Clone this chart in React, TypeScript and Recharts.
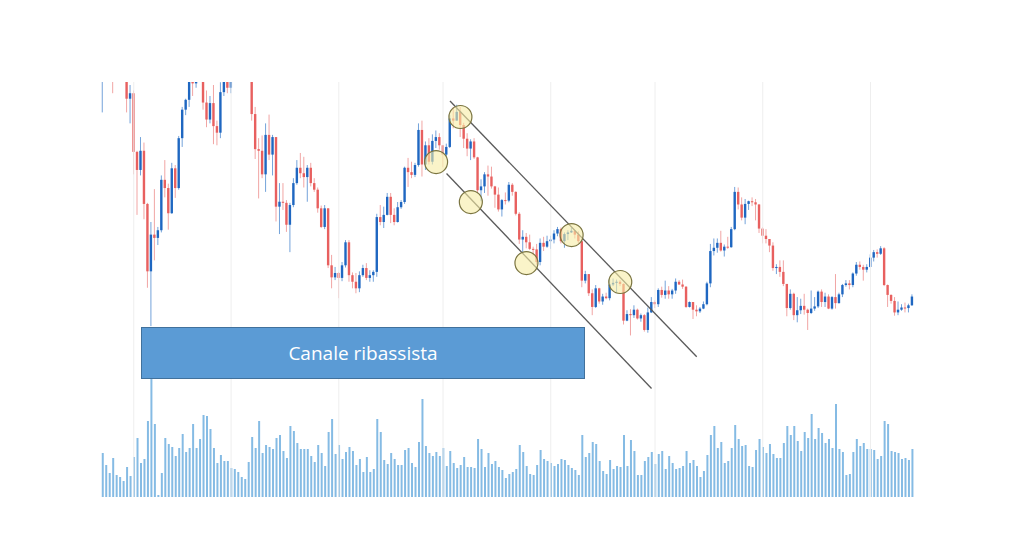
import { ComposedChart, Bar, XAxis, YAxis, ReferenceLine, ReferenceDot } from 'recharts';

// BTC daily candles, 23 Jan 2018 -> 13 Sep 2018
const firstDay = Date.UTC(2018, 0, 23);
const firstOpen = 10800;

const closes = [
  10900, 11300, 11100, 11050, 11450, 11750, 11200, 10100, 10200, 9130,
  8800, 9150, 8180, 6950, 7620, 7560, 7700, 8620, 8470, 8010,
  8830, 8470, 9380, 9900, 10080, 11050, 10380, 11150, 11400, 10030,
  9720, 10020, 9600, 9480, 10220, 10650, 10300, 10950, 11000, 11450,
  11500, 11450, 10700, 9820, 9180, 9150, 8720, 9440, 9080, 9400,
  8130, 8220, 8200, 7800, 8160, 8560, 8840, 8740, 8670, 8840,
  8560, 8440, 8100, 7760, 8100, 7060, 6840, 6920, 6830, 7060,
  7480, 6880, 6760, 6640, 6880, 7010, 6830, 6880, 6940, 7940,
  7850, 7980, 8310, 7980, 7850, 8120, 8215, 8840, 8760, 8710,
  8890, 9530, 8900, 9250, 8950, 9330, 9400, 9250, 9080, 9220,
  9740, 9700, 9860, 9620, 9370, 9190, 9320, 9030, 8430, 8500,
  8720, 8680, 8500, 8350, 8080, 8250, 8240, 8530, 8400, 8000,
  7530, 7580, 7480, 7360, 7350, 7120, 7470, 7400, 7500, 7530,
  7640, 7720, 7500, 7630, 7660, 7690, 7620, 7500, 6780, 6900,
  6550, 6300, 6640, 6400, 6490, 6460, 6710, 6740, 6760, 6720,
  6050, 6170, 6150, 6250, 6090, 6150, 5880, 6200, 6390, 6350,
  6610, 6520, 6600, 6530, 6600, 6760, 6710, 6670, 6300, 6390,
  6250, 6220, 6270, 6350, 6730, 7320, 7380, 7470, 7330, 7400,
  7390, 7720, 8400, 8170, 7930, 8180, 8230, 8210, 8170, 7730,
  7600, 7540, 7420, 7010, 7030, 6940, 6720, 6280, 6540, 6150,
  6240, 6320, 6250, 6190, 6270, 6310, 6580, 6390, 6490, 6270,
  6480, 6370, 6530, 6700, 6730, 6700, 6910, 7070, 7030, 6980,
  7030, 7200, 7300, 7270, 7370, 6700, 6520, 6410, 6200, 6250,
  6290, 6280, 6330, 6490,
];

const highs = [
  11100, 11450, 11600, 11600, 11600, 12000, 11800, 11250, 10350, 10250,
  9150, 9400, 9300, 8200, 7850, 8450, 7760, 8700, 8980, 8550,
  8930, 8890, 9420, 9950, 10100, 11150, 11250, 11250, 11800, 11500,
  10250, 10150, 10350, 9700, 10400, 10850, 11050, 11050, 11150, 11550,
  11550, 11700, 11450, 10900, 9950, 9380, 9430, 9650, 9810, 9440,
  9400, 8560, 8560, 8250, 8200, 8650, 8980, 9110, 9040, 8890,
  8930, 8650, 8480, 8150, 8160, 8100, 7250, 7030, 6940, 7120,
  7520, 7520, 6930, 6920, 6950, 7070, 7100, 6970, 6970, 8000,
  8160, 8130, 8380, 8380, 8100, 8215, 8250, 8860, 9020, 8950,
  8930, 9650, 9700, 9320, 9380, 9450, 9520, 9470, 9250, 9280,
  9800, 9950, 9990, 9950, 9660, 9470, 9360, 9380, 9040, 8630,
  8760, 8880, 8860, 8510, 8480, 8270, 8390, 8580, 8560, 8410,
  8030, 7700, 7650, 7620, 7400, 7450, 7550, 7580, 7600, 7600,
  7700, 7760, 7750, 7660, 7700, 7750, 7700, 7680, 7510, 6960,
  6900, 6620, 6700, 6650, 6540, 6560, 6810, 6820, 6800, 6790,
  6730, 6240, 6260, 6330, 6270, 6180, 6170, 6290, 6480, 6420,
  6640, 6670, 6780, 6680, 6630, 6820, 6790, 6800, 6680, 6400,
  6390, 6330, 6300, 6400, 6760, 7450, 7550, 7550, 7690, 7440,
  7580, 7760, 8490, 8480, 8300, 8270, 8240, 8300, 8270, 8180,
  7760, 7720, 7540, 7480, 7080, 7150, 7150, 6720, 6620, 6560,
  6480, 6450, 6540, 6270, 6600, 6480, 6600, 6620, 6560, 6530,
  6500, 6900, 6560, 6720, 6790, 6790, 6930, 7120, 7130, 7070,
  7080, 7260, 7340, 7350, 7410, 7390, 6710, 6530, 6480, 6400,
  6350, 6380, 6360, 6530,
];

const lows = [
  9850, 10450, 10900, 10200, 10850, 11350, 11050, 9850, 9650, 8720,
  7980, 8700, 7900, 6650, 5950, 7150, 7430, 7660, 8300, 7710,
  8000, 8290, 8440, 9220, 9800, 9950, 10150, 10300, 11100, 9900,
  9580, 9650, 9270, 9250, 9380, 10150, 10200, 10200, 10750, 11000,
  11050, 11400, 10600, 9700, 9000, 8280, 8650, 8400, 8980, 8700,
  7860, 7630, 8070, 7670, 7300, 8120, 8530, 8650, 8480, 8220,
  8500, 8400, 8020, 7740, 7720, 7010, 6640, 6790, 6460, 6770,
  7020, 6760, 6640, 6550, 6570, 6850, 6790, 6760, 6760, 6850,
  7790, 7740, 7970, 7830, 7790, 7840, 8090, 8180, 8490, 8650,
  8670, 8860, 8680, 8800, 8900, 8900, 9200, 9170, 8850, 9050,
  9200, 9560, 9700, 9400, 9200, 9050, 8980, 9000, 8380, 8230,
  8380, 8330, 8460, 8110, 8040, 7950, 8170, 8210, 8330, 7970,
  7450, 7280, 7370, 7340, 7240, 7070, 7060, 7320, 7380, 7360,
  7460, 7590, 7460, 7380, 7520, 7650, 7550, 7460, 6660, 6730,
  6500, 6150, 6280, 6360, 6340, 6440, 6420, 6680, 6560, 6680,
  5980, 6040, 5780, 6100, 6070, 6030, 5850, 5830, 6190, 6280,
  6300, 6470, 6450, 6450, 6450, 6540, 6700, 6630, 6280, 6290,
  6080, 6130, 6190, 6260, 6330, 6660, 7240, 7290, 7310, 7220,
  7360, 7380, 7700, 8080, 7880, 7810, 8070, 8140, 7880, 7650,
  7460, 7460, 7300, 6960, 6900, 6850, 6680, 6130, 6250, 6060,
  6020, 6170, 6160, 5880, 6170, 6230, 6280, 6300, 6300, 6260,
  6250, 6270, 6360, 6480, 6670, 6620, 6660, 6870, 6980, 6780,
  6930, 7020, 7130, 7200, 7250, 6680, 6300, 6360, 6140, 6150,
  6230, 6200, 6200, 6320,
];

const volumes = [
  44, 32, 24, 39, 22, 20, 16, 30, 21, 40,
  59, 34, 38, 76, 120, 73, 2, 24, 59, 53,
  50, 41, 49, 63, 45, 49, 73, 49, 58, 82,
  81, 68, 49, 34, 42, 36, 36, 29, 28, 25,
  20, 18, 35, 60, 49, 76, 44, 52, 50, 48,
  59, 62, 46, 39, 71, 66, 54, 48, 48, 48,
  41, 35, 52, 44, 31, 65, 78, 43, 52, 38,
  45, 50, 46, 32, 38, 25, 40, 25, 28, 78,
  65, 37, 33, 44, 38, 32, 32, 47, 49, 34,
  30, 55, 98, 51, 44, 41, 45, 41, 49, 31,
  46, 34, 29, 32, 40, 30, 30, 29, 58, 48,
  30, 44, 33, 36, 30, 27, 19, 23, 25, 28,
  52, 45, 31, 23, 22, 32, 47, 38, 36, 34,
  31, 33, 38, 37, 32, 29, 27, 22, 62, 40,
  44, 55, 53, 36, 26, 23, 37, 28, 31, 30,
  62, 31, 57, 46, 22, 22, 36, 40, 45, 33,
  43, 46, 28, 41, 34, 28, 29, 31, 46, 34,
  37, 31, 20, 26, 42, 62, 71, 49, 55, 34,
  36, 49, 72, 58, 51, 52, 31, 30, 47, 58,
  50, 44, 53, 43, 39, 39, 54, 71, 62, 71,
  56, 46, 65, 59, 83, 58, 69, 64, 54, 58,
  49, 93, 48, 45, 22, 23, 45, 58, 51, 54,
  48, 48, 47, 38, 41, 76, 73, 46, 45, 44,
  38, 39, 37, 48,
];

const monthStarts = ['2018-02-01', '2018-03-01', '2018-04-01', '2018-05-01', '2018-06-01', '2018-07-01', '2018-08-01', '2018-09-01'];

// channel drawn on the chart: [day index, price]
const upperChannel = [[100, 10058], [171, 5391]];
const lowerChannel = [[99, 8735], [158, 4813]];
const touches = [[103, 9766], [96, 8944], [106, 8214], [135, 7612], [122, 7101], [149, 6755]];

const days = closes.map((_, i) => new Date(firstDay + i * 86400000).toISOString().slice(0, 10));

const data = closes.map((close, i) => {
  const open = i === 0 ? firstOpen : closes[i - 1];
  const high = Math.max(highs[i], open, close);
  const low = Math.min(lows[i], open, close);
  return { day: days[i], open, close, high, low, range: [low, high], volume: volumes[i] };
});

const UP = '#1f67c1';
const DOWN = '#e8605f';
const UP_WICK = '#74a3da';
const DOWN_WICK = '#f1a5a4';

function Candle(props: any) {
  const { x, y, width, height, payload } = props;
  if (!payload || y == null) return null;
  const top = Math.min(y, y + height);
  const h = Math.abs(height);
  const span = payload.high - payload.low || 1;
  const toY = (v: number) => top + ((payload.high - v) / span) * h;
  const up = payload.close >= payload.open;
  const cx = x + width / 2;
  const bTop = toY(Math.max(payload.open, payload.close));
  const bBot = toY(Math.min(payload.open, payload.close));
  const bw = 2.4;
  return (
    <g>
      <line x1={cx} x2={cx} y1={top} y2={top + h} stroke={up ? UP_WICK : DOWN_WICK} strokeWidth={1} />
      <rect x={cx - bw / 2} y={bTop} width={bw} height={Math.max(1, bBot - bTop)} fill={up ? UP : DOWN} />
    </g>
  );
}

export default function App() {
  return (
    <div style={{ position: 'absolute', left: 0, top: 0, width: 1024, height: 539, background: '#fff' }}>
      <ComposedChart
        width={1024}
        height={539}
        data={data}
        margin={{ top: 82, right: 110.1, bottom: 42, left: 100.76 }}
      >
        <XAxis xAxisId="p" dataKey="day" hide />
        <XAxis xAxisId="v" dataKey="day" hide />
        <YAxis yAxisId="p" type="number" domain={[2832, 10405]} allowDataOverflow hide />
        <YAxis yAxisId="v" type="number" domain={[0, 415]} allowDataOverflow hide />

        {monthStarts.map(m => (
          <ReferenceLine key={m} x={m} xAxisId="p" yAxisId="p" stroke="#eeeeee" strokeWidth={1} />
        ))}

        <Bar xAxisId="v" yAxisId="v" dataKey="volume" fill="#85bbe4" barSize={2} isAnimationActive={false} />
        <Bar xAxisId="p" yAxisId="p" dataKey="range" barSize={3} shape={(p: any) => <Candle {...p} />} isAnimationActive={false} />

        {[upperChannel, lowerChannel].map((c, k) => (
          <ReferenceLine
            key={k}
            xAxisId="p"
            yAxisId="p"
            segment={[{ x: days[c[0][0]], y: c[0][1] }, { x: days[c[1][0]], y: c[1][1] }]}
            stroke="#5a5a5a"
            strokeWidth={1.3}
            ifOverflow="visible"
          />
        ))}
        {touches.map(([i, v]) => (
          <ReferenceDot
            key={i}
            xAxisId="p"
            yAxisId="p"
            x={days[i]}
            y={v}
            r={11.5}
            fill="#f6eda5"
            fillOpacity={0.6}
            stroke="#7a7440"
            strokeWidth={1.2}
          />
        ))}
      </ComposedChart>
      <div
        style={{
          position: 'absolute', left: 141, top: 327, width: 444, height: 52, boxSizing: 'border-box',
          background: '#5b9bd5', border: '1px solid #41719c', color: '#fff',
          display: 'flex', alignItems: 'center', justifyContent: 'center',
          fontFamily: '"Open Sans", sans-serif', fontSize: 19,
        }}
      >
        Canale ribassista
      </div>
    </div>
  );
}
